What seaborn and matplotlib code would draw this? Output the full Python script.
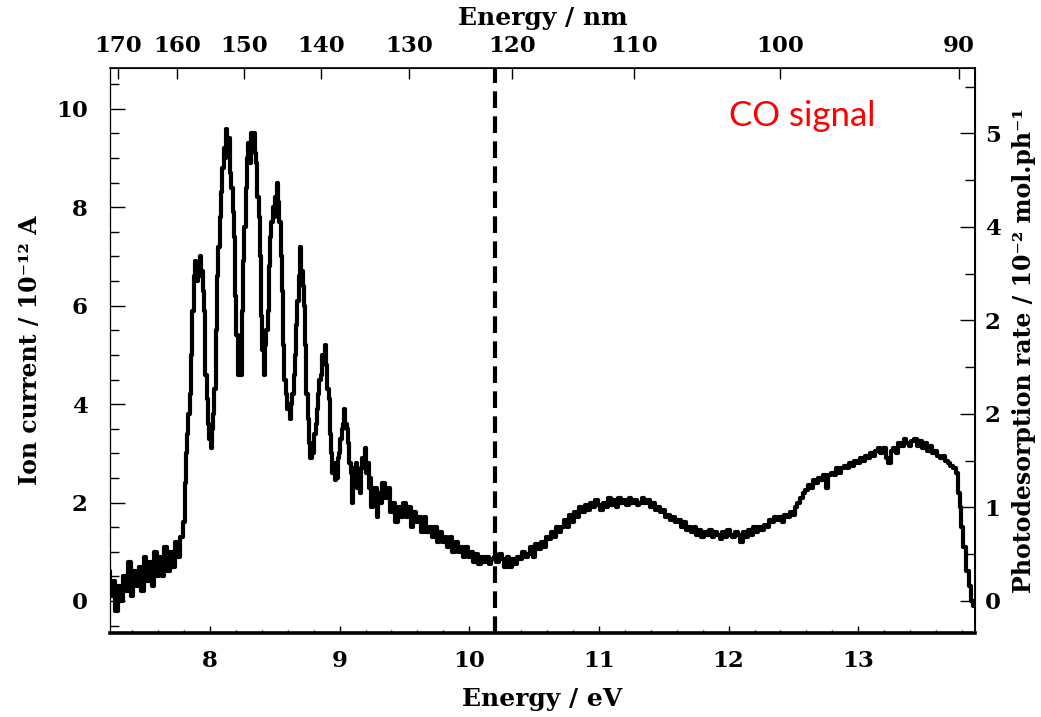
import numpy as np
import pandas as pd
import matplotlib
matplotlib.use("Agg")
import matplotlib.pyplot as plt
from matplotlib.ticker import MultipleLocator, NullLocator
import seaborn as sns

# ---- data (ion current, 10^-12 A) ----
# baseline before the band, 7.22 .. 7.78 eV every 0.02 eV
seg1_start, seg1_step = 7.22, 0.02
seg1_current = [0.6, 0.1, 0.4, -0.2, 0.3, 0.0, 0.5, 0.2, 0.8, 0.1,
                0.6, 0.3, 0.7, 0.2, 0.9, 0.4, 0.8, 0.3, 1.0, 0.5,
                0.9, 0.5, 1.1, 0.6, 1.0, 0.7, 1.2, 0.9, 1.3]

# vibronic progression, 7.80 .. 9.30 eV every 0.01 eV
seg2_start, seg2_step = 7.80, 0.01
seg2_current = [1.6, 2.4, 3.0, 3.4, 3.8, 4.2, 5.0, 5.9, 6.6, 6.9,
                6.5, 6.8, 6.6, 7.0, 6.7, 6.3, 5.9, 4.6, 4.1, 3.6,
                3.3, 3.1, 3.5, 3.8, 4.3, 5.5, 6.6, 7.2, 7.8, 8.3,
                8.8, 9.2, 9.0, 9.6, 9.2, 9.4, 8.7, 8.4, 7.9, 7.4,
                6.2, 5.4, 4.6, 5.0, 4.6, 5.9, 6.9, 7.6, 8.4, 9.0,
                9.3, 8.9, 9.5, 9.3, 9.5, 9.1, 8.9, 8.2, 7.8, 7.0,
                5.8, 5.1, 4.6, 5.2, 5.5, 5.9, 6.8, 7.4, 7.7, 8.0,
                7.8, 8.2, 8.5, 8.1, 7.7, 7.0, 6.3, 5.2, 4.5, 4.2,
                3.9, 4.0, 3.7, 4.0, 4.2, 4.6, 5.0, 5.6, 6.1, 6.6,
                7.2, 6.7, 6.4, 6.0, 5.2, 4.2, 3.7, 3.2, 2.9, 3.2,
                3.0, 3.4, 3.6, 3.9, 4.2, 4.5, 4.6, 5.0, 4.9, 5.2,
                4.8, 4.3, 4.1, 3.4, 3.0, 2.6, 2.8, 2.45, 2.5, 2.9,
                3.0, 3.3, 3.5, 3.6, 3.9, 3.6, 3.5, 3.2, 2.8, 2.6,
                2.0, 2.7, 2.4, 2.8, 2.3, 2.6, 2.2, 2.7, 2.9, 2.7,
                3.1, 2.6, 2.8, 2.3, 2.5, 1.9, 2.3, 2.0, 2.3, 1.7,
                2.2]

# continuum, 9.32 .. 13.76 eV every 0.02 eV
seg3_start, seg3_step = 9.32, 0.02
seg3_current = [2.0, 2.4, 2.1, 2.3, 1.8, 2.0, 1.6, 1.9, 1.7, 2.0,
                1.7, 1.9, 1.5, 1.8, 1.6, 1.7, 1.4, 1.7, 1.4, 1.5,
                1.3, 1.5, 1.2, 1.4, 1.2, 1.3, 1.1, 1.3, 1.0, 1.2,
                1.0, 1.1, 0.9, 1.1, 0.9, 1.0, 0.8, 0.95, 0.75, 0.9,
                0.8, 0.9, 0.75, 0.85, 0.9, 0.8, 0.95, 0.85, 0.7, 0.9,
                0.7, 0.85, 0.75, 0.9, 0.85, 1.0, 0.9, 0.95, 1.1, 0.9,
                1.15, 1.05, 1.2, 1.1, 1.3, 1.25, 1.4, 1.3, 1.5, 1.4,
                1.5, 1.65, 1.5, 1.75, 1.6, 1.8, 1.7, 1.9, 1.8, 1.95,
                1.85, 2.0, 1.9, 2.05, 1.95, 1.85, 2.0, 1.9, 2.1, 1.95,
                2.05, 1.9, 2.1, 2.0, 2.05, 1.95, 2.1, 2.0, 2.05, 1.95,
                2.0, 2.1, 2.0, 2.05, 1.9, 2.0, 1.85, 1.9, 1.8, 1.85,
                1.7, 1.75, 1.65, 1.7, 1.6, 1.65, 1.5, 1.6, 1.45, 1.5,
                1.4, 1.5, 1.35, 1.45, 1.3, 1.4, 1.35, 1.45, 1.3, 1.4,
                1.35, 1.25, 1.4, 1.3, 1.45, 1.35, 1.3, 1.4, 1.35, 1.2,
                1.4, 1.3, 1.45, 1.35, 1.5, 1.4, 1.5, 1.45, 1.55, 1.5,
                1.65, 1.6, 1.7, 1.65, 1.7, 1.6, 1.75, 1.7, 1.8, 1.75,
                1.9, 2.0, 2.1, 2.2, 2.25, 2.35, 2.3, 2.45, 2.4, 2.5,
                2.45, 2.55, 2.3, 2.55, 2.6, 2.55, 2.7, 2.6, 2.7, 2.75,
                2.7, 2.8, 2.75, 2.85, 2.8, 2.9, 2.85, 2.95, 2.9, 3.0,
                2.95, 3.05, 3.1, 3.0, 3.1, 2.9, 2.8, 3.05, 3.1, 3.0,
                3.2, 3.15, 3.3, 3.2, 3.15, 3.25, 3.3, 3.15, 3.25, 3.1,
                3.2, 3.05, 3.15, 3.0, 3.05, 2.95, 2.9, 2.95, 2.85, 2.8,
                2.75, 2.7, 2.6]

# high energy cut-off
tail_energy = [13.78, 13.79, 13.80, 13.82, 13.84, 13.86, 13.88, 13.89]
tail_current = [2.2, 1.9, 1.5, 1.1, 0.6, 0.3, 0.0, -0.1]

lyman_alpha_ev = 10.2
nm_ticks = [170, 160, 150, 140, 130, 120, 110, 100, 90]
rate_ticks = [0, 1, 2, 3, 4, 5]
rate_labels = ["0", "1", "2", "2", "4", "5"]   # as printed on the figure
current_per_rate = 1.9


def grid(start, step, vals):
    return list(start + step * np.arange(len(vals)))


energy = (grid(seg1_start, seg1_step, seg1_current)
          + grid(seg2_start, seg2_step, seg2_current)
          + grid(seg3_start, seg3_step, seg3_current)
          + tail_energy)
current = seg1_current + seg2_current + seg3_current + tail_current
df = pd.DataFrame({"energy": energy, "current": current})

# ---- style ----
sns.set_style("ticks")
plt.rcParams["font.family"] = ["DejaVu Serif"]
plt.rcParams["font.weight"] = "bold"
plt.rcParams["axes.labelweight"] = "bold"
for key in ("text.color", "axes.labelcolor", "xtick.color", "ytick.color",
            "axes.edgecolor"):
    plt.rcParams[key] = "black"

fig = plt.figure(figsize=(10.41, 7.17), dpi=100)
ax = fig.add_axes([0.1057, 0.1172, 0.8309, 0.788])

sns.lineplot(data=df, x="energy", y="current", ax=ax, color="black",
             linewidth=3.0, drawstyle="steps-mid", errorbar=None,
             estimator=None, sort=True)
ax.axvline(lyman_alpha_ev, color="black", lw=3, ls=(0, (4, 2)))

ax.set_xlim(7.23, 13.9)
ax.set_ylim(-0.65, 10.83)

ax.xaxis.set_major_locator(MultipleLocator(1))
ax.xaxis.set_minor_locator(MultipleLocator(0.2))
ax.yaxis.set_major_locator(MultipleLocator(2))
ax.yaxis.set_minor_locator(MultipleLocator(0.5))

ax.tick_params(axis="x", which="major", direction="in", length=5, width=1,
               labelsize=16.5, pad=12)
ax.tick_params(axis="x", which="minor", direction="in", length=2, width=1)
ax.tick_params(axis="y", which="major", direction="in", length=11, width=1,
               labelsize=16.5, pad=16)
ax.tick_params(axis="y", which="minor", direction="in", length=6.5, width=1)

ax.set_xlabel("Energy / eV", fontsize=18, labelpad=11)
ax.set_ylabel("Ion current / 10⁻¹² A", fontsize=17, labelpad=10)

for side, w in (("bottom", 2.6), ("left", 0.9), ("right", 1.4), ("top", 1.2)):
    ax.spines[side].set_linewidth(w)


def ev_to_nm(x):
    x = np.asarray(x, dtype=float)
    with np.errstate(divide="ignore", invalid="ignore"):
        return 1239.84 / x


top = ax.secondary_xaxis("top", functions=(ev_to_nm, ev_to_nm))
top.set_xticks(nm_ticks)
top.xaxis.set_minor_locator(NullLocator())
top.tick_params(direction="in", length=8, width=1, labelsize=16.5, pad=8)
top.set_xlabel("Energy / nm", fontsize=18, labelpad=7)

right = ax.secondary_yaxis("right", functions=(lambda y: y / current_per_rate,
                                               lambda y: y * current_per_rate))
right.set_yticks(rate_ticks, rate_labels)
right.yaxis.set_minor_locator(MultipleLocator(0.5))
right.tick_params(which="major", direction="in", length=11, width=1,
                  labelsize=16.5, pad=7)
right.tick_params(which="minor", direction="in", length=7, width=1)
right.set_ylabel("Photodesorption rate / 10⁻² mol.ph⁻¹", fontsize=17,
                 labelpad=8)

ax.text(0.80, 0.915, "CO signal", transform=ax.transAxes, color="red",
        fontsize=25, fontweight="normal", family=["Lato", "DejaVu Sans"],
        ha="center", va="center")

fig.savefig("out.png", dpi=100)
